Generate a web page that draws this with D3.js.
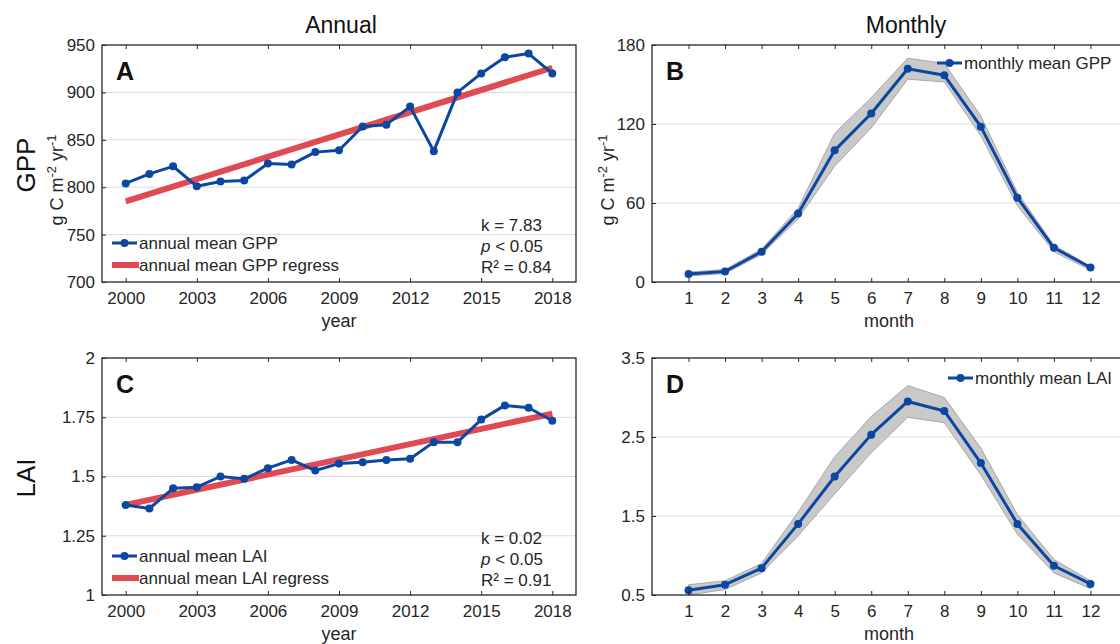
<!DOCTYPE html>
<html lang="en">
<head>
<meta charset="utf-8">
<title>GPP and LAI: annual and monthly</title>
<script src="https://cdn.jsdelivr.net/npm/d3@7/dist/d3.min.js"></script>
<style>
  body { margin: 0; background: #fff; }
  svg { font-family: "Liberation Sans", Arial, sans-serif; }
</style>
</head>
<body>
<script>
// ---- data ----
var years = d3.range(2000, 2019);
var gppAnnual = [804, 814, 822, 801, 806, 807, 825, 824, 837, 839, 864, 866, 885, 838, 900, 920, 937, 941, 920];
var gppRegress = [785, 926];           // fit at 2000 and 2018
var laiAnnual = [1.38, 1.365, 1.45, 1.455, 1.50, 1.49, 1.535, 1.57, 1.525, 1.555, 1.56, 1.57, 1.575, 1.645, 1.645, 1.74, 1.80, 1.79, 1.735];
var laiRegress = [1.38, 1.765];

var months = d3.range(1, 13);
var gppMonthly = [6, 8, 23, 52, 100, 128, 162, 157, 118, 64, 26, 11];
var gppMonthlyHi = [7.5, 9.5, 25, 56, 113, 140, 170, 166, 126, 68, 28, 12];
var gppMonthlyLo = [4.5, 6.5, 21, 48, 88, 117, 154, 152, 111, 58, 23, 9];
var laiMonthly = [0.56, 0.63, 0.84, 1.40, 2.00, 2.53, 2.95, 2.83, 2.17, 1.40, 0.87, 0.64];
var laiMonthlyHi = [0.63, 0.68, 0.90, 1.55, 2.25, 2.76, 3.15, 3.00, 2.36, 1.52, 0.95, 0.68];
var laiMonthlyLo = [0.50, 0.57, 0.78, 1.25, 1.78, 2.30, 2.75, 2.68, 2.02, 1.27, 0.78, 0.58];

var yearTicks = [2000, 2003, 2006, 2009, 2012, 2015, 2018];
var gppTicks = [700, 750, 800, 850, 900, 950];
var gppMonthTicks = [0, 60, 120, 180];
var laiTicks = [1, 1.25, 1.5, 1.75, 2];
var laiMonthTicks = [0.5, 1.5, 2.5, 3.5];

var blue = "#0b47a1";
var red = "#e04a52";
var ink = "#262626";
var fs = 17;

var w = 1120, h = 644;
var svg = d3.select("body").append("svg").attr("width", w).attr("height", h);

function drawPanel(p) {
  var x = d3.scaleLinear().domain(p.xDomain).range([p.left, p.right]);
  var y = d3.scaleLinear().domain(p.yDomain).range([p.bottom, p.top]);
  var g = svg.append("g");

  // grid
  g.selectAll(".grid").data(p.yTicks.slice(1, -1)).enter().append("line")
    .attr("x1", p.left).attr("x2", p.right)
    .attr("y1", function(d) { return y(d); }).attr("y2", function(d) { return y(d); })
    .attr("stroke", "#dcdcdc").attr("stroke-width", 1);

  // band
  if (p.hi) {
    var area = d3.area()
      .x(function(d, i) { return x(p.xs[i]); })
      .y0(function(d, i) { return y(p.lo[i]); })
      .y1(function(d, i) { return y(p.hi[i]); });
    g.append("path").datum(p.ys).attr("d", area)
      .attr("fill", "#c9c9c9").attr("stroke", "#a8a8a8").attr("stroke-width", 1);
  }

  // regression
  if (p.reg) {
    g.append("line")
      .attr("x1", x(p.xs[0])).attr("x2", x(p.xs[p.xs.length - 1]))
      .attr("y1", y(p.reg[0])).attr("y2", y(p.reg[1]))
      .attr("stroke", red).attr("stroke-width", 6);
  }

  var line = d3.line()
    .x(function(d, i) { return x(p.xs[i]); })
    .y(function(d) { return y(d); });
  g.append("path").datum(p.ys).attr("d", line)
    .attr("fill", "none").attr("stroke", blue).attr("stroke-width", 3)
    .attr("stroke-linejoin", "round");
  g.selectAll(".pt").data(p.ys).enter().append("circle")
    .attr("cx", function(d, i) { return x(p.xs[i]); })
    .attr("cy", function(d) { return y(d); })
    .attr("r", 4).attr("fill", blue);

  // frame (clipped at the page edge on the right)
  g.append("rect").attr("x", p.left).attr("y", p.top)
    .attr("width", p.right - p.left).attr("height", p.bottom - p.top)
    .attr("fill", "none").attr("stroke", ink).attr("stroke-width", 1.3);

  // axes
  var xb = g.append("g").attr("transform", "translate(0," + p.bottom + ")")
    .call(d3.axisBottom(x).tickValues(p.xTicks).tickSize(-4).tickPadding(10).tickFormat(d3.format("d")));
  var xt = g.append("g").attr("transform", "translate(0," + p.top + ")")
    .call(d3.axisTop(x).tickValues(p.xTicks).tickSize(-4).tickFormat(""));
  var yl = g.append("g").attr("transform", "translate(" + p.left + ",0)")
    .call(d3.axisLeft(y).tickValues(p.yTicks).tickSize(-4).tickPadding(7).tickFormat(p.yFormat));
  [xb, xt, yl].forEach(function(a) {
    a.select(".domain").remove();
    a.selectAll("line").attr("stroke", ink);
    a.selectAll("text").attr("font-size", fs).attr("fill", ink)
      .attr("font-family", "Liberation Sans, Arial, sans-serif");
  });

  // panel letter
  g.append("text").attr("x", p.left + 14).attr("y", p.top + 35)
    .attr("font-size", 25).attr("font-weight", "bold").attr("fill", "#111").text(p.letter);

  // x label
  g.append("text").attr("x", p.labelX).attr("y", p.bottom + 45)
    .attr("text-anchor", "middle").attr("font-size", 18).attr("fill", ink).text(p.xLabel);

  return { x: x, y: y, g: g };
}

function unitLabel(cx, cy) {
  var t = svg.append("text").attr("transform", "translate(" + cx + "," + cy + ") rotate(-90)")
    .attr("text-anchor", "middle").attr("font-size", 18).attr("fill", ink);
  t.append("tspan").text("g C m");
  t.append("tspan").attr("dy", -7).attr("font-size", 13).text("-2");
  t.append("tspan").attr("dy", 7).text(" yr");
  t.append("tspan").attr("dy", -7).attr("font-size", 13).text("-1");
}

function legend(g, x0, y0, items) {
  items.forEach(function(it, i) {
    var yy = y0 + i * 22;
    if (it.type === "reg") {
      g.append("line").attr("x1", x0).attr("x2", x0 + 27).attr("y1", yy).attr("y2", yy)
        .attr("stroke", red).attr("stroke-width", 6);
    } else {
      g.append("line").attr("x1", x0).attr("x2", x0 + 25).attr("y1", yy).attr("y2", yy)
        .attr("stroke", blue).attr("stroke-width", 3);
      g.append("circle").attr("cx", x0 + 12.5).attr("cy", yy).attr("r", 4).attr("fill", blue);
    }
    g.append("text").attr("x", x0 + 27).attr("y", yy + 6)
      .attr("font-size", fs).attr("fill", ink).text(it.label);
  });
}

function stats(g, x0, y0, k, r2) {
  var t1 = g.append("text").attr("x", x0).attr("y", y0).attr("font-size", fs).attr("fill", ink);
  t1.text("k = " + k);
  var t2 = g.append("text").attr("x", x0).attr("y", y0 + 21).attr("font-size", fs).attr("fill", ink);
  t2.append("tspan").attr("font-style", "italic").text("p");
  t2.append("tspan").text(" < 0.05");
  var t3 = g.append("text").attr("x", x0).attr("y", y0 + 42).attr("font-size", fs).attr("fill", ink);
  t3.text("R\u00b2 = " + r2);
}

// column titles
svg.append("text").attr("x", 341).attr("y", 33).attr("text-anchor", "middle")
  .attr("font-size", 23).attr("fill", "#111").text("Annual");
svg.append("text").attr("x", 906).attr("y", 33).attr("text-anchor", "middle")
  .attr("font-size", 23).attr("fill", "#111").text("Monthly");

// row labels
svg.append("text").attr("transform", "translate(35,165) rotate(-90)").attr("text-anchor", "middle")
  .attr("font-size", 26).attr("fill", "#111").text("GPP");
svg.append("text").attr("transform", "translate(35,478) rotate(-90)").attr("text-anchor", "middle")
  .attr("font-size", 26).attr("fill", "#111").text("LAI");

unitLabel(63, 180);
unitLabel(614, 180);

var A = drawPanel({ letter: "A", left: 102, right: 576, top: 45, bottom: 282, labelX: 339,
  xDomain: [1999, 2019], yDomain: [700, 950], xs: years, ys: gppAnnual, reg: gppRegress,
  xTicks: yearTicks, yTicks: gppTicks, yFormat: d3.format("d"), xLabel: "year" });
legend(A.g, 112, 243, [{ type: "line", label: "annual mean GPP" }, { type: "reg", label: "annual mean GPP regress" }]);
stats(A.g, 481, 231, "7.83", "0.84");

var B = drawPanel({ letter: "B", left: 652, right: 1127, top: 45, bottom: 282, labelX: 889,
  xDomain: [0, 13], yDomain: [0, 180], xs: months, ys: gppMonthly, hi: gppMonthlyHi, lo: gppMonthlyLo,
  xTicks: months, yTicks: gppMonthTicks, yFormat: d3.format("d"), xLabel: "month" });
legend(B.g, 937, 63, [{ type: "line", label: "monthly mean GPP" }]);

var C = drawPanel({ letter: "C", left: 102, right: 576, top: 358, bottom: 595, labelX: 339,
  xDomain: [1999, 2019], yDomain: [1, 2], xs: years, ys: laiAnnual, reg: laiRegress,
  xTicks: yearTicks, yTicks: laiTicks, yFormat: function(d) { return String(d); }, xLabel: "year" });
legend(C.g, 112, 556, [{ type: "line", label: "annual mean LAI" }, { type: "reg", label: "annual mean LAI regress" }]);
stats(C.g, 481, 544, "0.02", "0.91");

var D = drawPanel({ letter: "D", left: 652, right: 1127, top: 358, bottom: 595, labelX: 889,
  xDomain: [0, 13], yDomain: [0.5, 3.5], xs: months, ys: laiMonthly, hi: laiMonthlyHi, lo: laiMonthlyLo,
  xTicks: months, yTicks: laiMonthTicks, yFormat: function(d) { return String(d); }, xLabel: "month" });
legend(D.g, 948, 378, [{ type: "line", label: "monthly mean LAI" }]);
</script>
</body>
</html>
